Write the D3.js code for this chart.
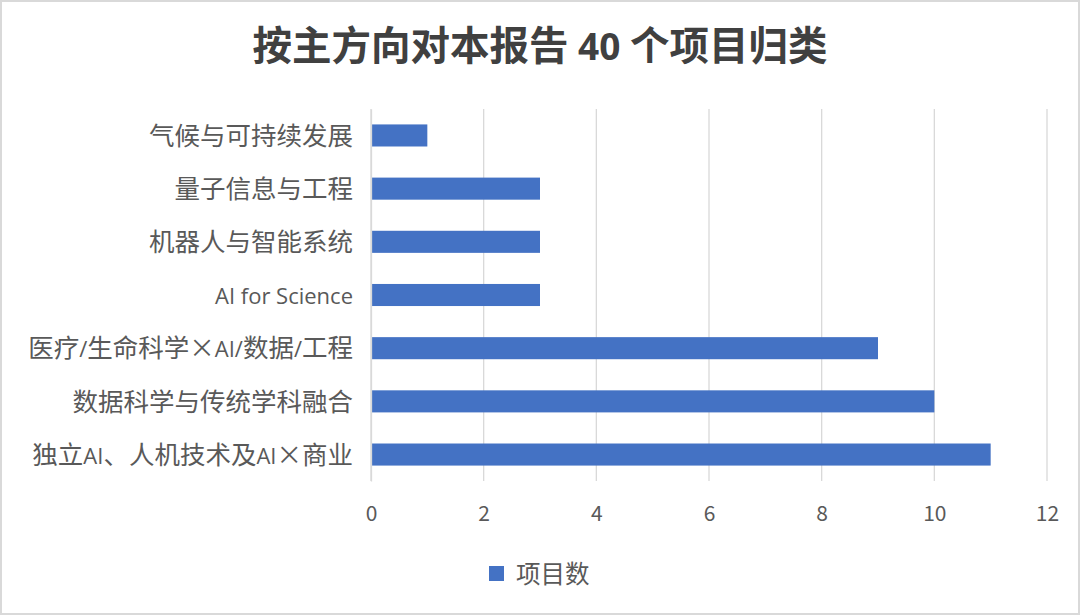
<!DOCTYPE html>
<html>
<head>
<meta charset="utf-8">
<script src="https://cdn.jsdelivr.net/npm/d3@7"></script>
<style>
  body { margin: 0; background: #fff; }
  text { font-family: "Noto Sans CJK SC", "Open Sans", sans-serif; }
</style>
</head>
<body>
<svg id="chart" width="1080" height="615"></svg>
<script>
// data, listed top to bottom as drawn
var categories = ["气候与可持续发展", "量子信息与工程", "机器人与智能系统", "AI for Science",
	"医疗/生命科学×AI/数据/工程", "数据科学与传统学科融合", "独立AI、人机技术及AI×商业"];
var counts = [1, 3, 3, 3, 9, 10, 11];
var xTicks = [0, 2, 4, 6, 8, 10, 12];
var seriesName = "项目数";
var title = "按主方向对本报告 40 个项目归类";

var W = 1080, H = 615;
var margin = {top: 109, right: 33, bottom: 134, left: 371};
var barColor = "#4472c4";

var svg = d3.select("#chart");

// latin runs a bit smaller than the CJK glyphs, like the original
function mixedText(sel, cjkSize, latinSize) {
	sel.each(function (d) {
		var t = d3.select(this);
		var s = t.text();
		t.text(null);
		var runs = s.match(/[\x20-\x7e]+|[^\x20-\x7e]+/g) || [];
		runs.forEach(function (r) {
			var latin = /^[\x20-\x7e]+$/.test(r);
			t.append("tspan")
				.attr("font-size", latin ? latinSize : cjkSize)
				.attr("font-family", latin ? "'Open Sans', sans-serif" : "'Noto Sans CJK SC', sans-serif")
				.text(r);
		});
	});
}

// outer frame
svg.append("rect")
	.attr("x", 1).attr("y", 1)
	.attr("width", W - 2).attr("height", H - 2)
	.attr("fill", "#fff")
	.attr("stroke", "#d9d9d9")
	.attr("stroke-width", 2);

svg.append("text")
	.attr("x", W / 2)
	.attr("y", 60)
	.attr("text-anchor", "middle")
	.attr("font-weight", 700)
	.attr("fill", "#404040")
	.text(title)
	.call(mixedText, 39.5, 37);

var x = d3.scaleLinear()
	.domain([0, 12])
	.range([margin.left, W - margin.right]);

var y = d3.scaleBand()
	.domain(categories)
	.range([margin.top, H - margin.bottom])
	.paddingInner(0.585)
	.paddingOuter(0.29);

// gridlines
svg.append("g")
	.selectAll("line")
	.data(xTicks)
	.join("line")
	.attr("x1", function (d) { return x(d); })
	.attr("x2", function (d) { return x(d); })
	.attr("y1", margin.top)
	.attr("y2", H - margin.bottom)
	.attr("stroke", "#d9d9d9")
	.attr("stroke-width", 1.3);

svg.append("g")
	.selectAll("rect")
	.data(counts)
	.join("rect")
	.attr("x", x(0))
	.attr("y", function (d, i) { return y(categories[i]); })
	.attr("width", function (d) { return x(d) - x(0); })
	.attr("height", y.bandwidth())
	.attr("fill", barColor);

// x axis labels
var xAxis = d3.axisBottom(x).tickValues(xTicks).tickSize(0).tickPadding(25);
var gx = svg.append("g")
	.attr("transform", "translate(0," + (H - margin.bottom) + ")")
	.call(xAxis);
gx.select(".domain").remove();
gx.selectAll("text")
	.attr("font-size", 21)
	.attr("font-family", "'Open Sans', 'Noto Sans CJK SC', sans-serif")
	.attr("fill", "#595959");

// category labels
var yAxis = d3.axisLeft(y).tickSize(0).tickPadding(18);
var gy = svg.append("g")
	.attr("transform", "translate(" + margin.left + ",0)")
	.call(yAxis);
gy.select(".domain")
	.attr("stroke", "#d9d9d9")
	.attr("stroke-width", 1.3);
gy.selectAll("text")
	.attr("font-size", 25.5)
	.attr("dy", "0.36em")
	.attr("fill", "#595959")
	.call(mixedText, 25.5, 22);

// legend
var legend = svg.append("g").attr("transform", "translate(489,566)");
legend.append("rect")
	.attr("width", 15).attr("height", 15)
	.attr("fill", barColor);
legend.append("text")
	.attr("x", 27)
	.attr("y", 8)
	.attr("dy", "0.36em")
	.attr("font-size", 24.5)
	.attr("fill", "#595959")
	.text(seriesName);
</script>
</body>
</html>
